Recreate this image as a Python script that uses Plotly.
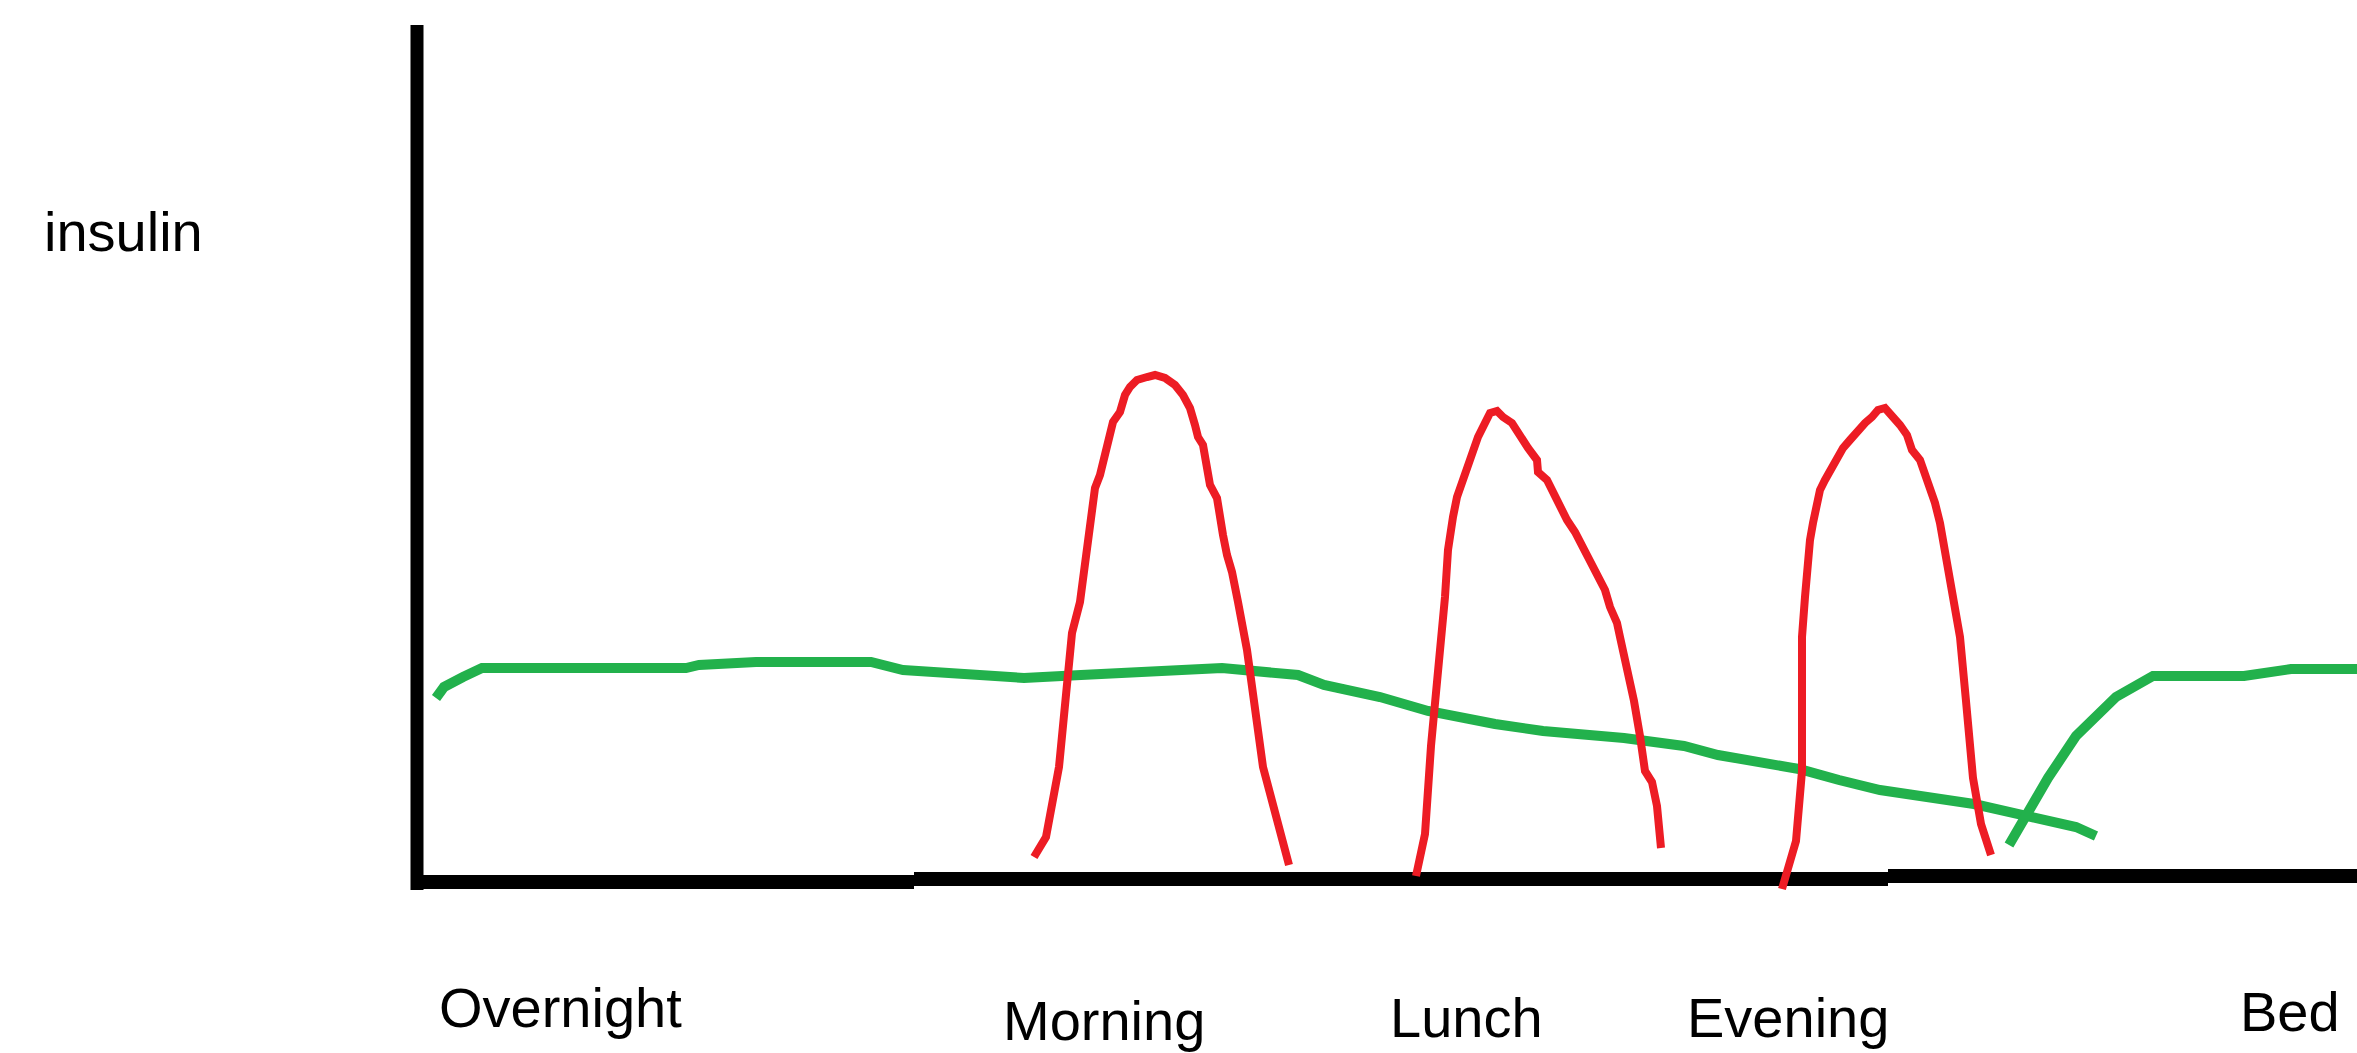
import plotly.graph_objects as go

# Time axis (arbitrary units) and insulin level (arbitrary units)
basal_day_x = [1.9, 2.7, 4.6, 6.5, 26.9, 28.2, 33.9, 45.4, 48.6, 55.0, 60.7, 66.4, 75.4, 80.5, 88.1,
               90.7, 96.3, 101.1, 107.8, 112.6, 120.7, 126.7, 130.1, 138.2, 142.2, 146.3, 155.7,
               161.1, 165.9, 167.9]
basal_day_y = [18.4, 19.5, 20.5, 21.4, 21.4, 21.7, 22.0, 22.0, 21.2, 20.9, 20.4, 20.7, 21.2, 21.4, 20.7,
               19.7, 18.5, 17.1, 15.8, 15.1, 14.4, 13.6, 12.7, 11.3, 10.2, 9.2, 7.8,
               6.7, 5.5, 4.6]

basal_bed_x = [159.2, 160.8, 163.1, 165.9, 169.9, 173.6, 182.7, 187.4, 194.3]
basal_bed_y = [3.7, 6.5, 10.4, 14.6, 18.5, 20.6, 20.6, 21.3, 21.3]

morning_x = [61.7, 62.9, 64.2, 64.9, 65.5, 66.3, 66.8, 67.3, 67.8, 68.3, 68.8, 69.1, 69.6, 70.3, 70.8,
             71.3, 72.0, 73.0, 73.8, 74.8, 75.8, 76.6, 77.3, 77.8, 78.1, 78.6, 79.0, 79.3, 80.0,
             80.3, 80.6, 81.0, 81.5, 82.1, 83.0, 84.6, 85.9, 87.2]
morning_y = [2.5, 4.5, 11.5, 18.2, 24.9, 28.0, 32.0, 35.4, 39.4, 40.7, 42.7, 44.7, 46.0, 47.0, 48.7,
             49.5, 50.2, 50.5, 50.7, 50.4, 49.7, 48.7, 47.4, 45.7, 44.5, 43.7, 41.7, 39.7, 38.4,
             37.0, 34.7, 32.7, 31.0, 28.0, 23.2, 11.5, 6.5, 1.7]

lunch_x = [99.9, 100.8, 101.4, 102.1, 102.5, 102.8, 103.1, 103.3, 103.6, 104.0, 104.5, 105.0, 105.5,
           106.1, 106.8, 107.3, 108.0, 108.6, 109.5, 110.3, 111.1, 112.0, 112.1, 113.0, 113.6,
           114.3, 115.0, 115.8, 116.6, 117.3, 118.0, 118.8, 119.3, 120.0, 120.3, 121.0, 121.7,
           122.3, 122.8, 123.5, 124.0, 124.4]
lunch_y = [0.6, 4.8, 13.6, 20.6, 24.5, 28.5, 33.2, 35.2, 36.5, 38.5, 39.9, 41.5, 43.2,
           44.5, 45.9, 46.9, 47.1, 46.5, 45.9, 44.5, 43.4, 42.2, 41.0, 40.2, 38.9,
           37.5, 36.2, 35.0, 33.5, 32.2, 30.5, 29.2, 27.5, 25.9, 24.5, 21.6, 18.1,
           14.6, 11.1, 10.0, 7.6, 3.4]

evening_x = [136.5, 137.9, 138.5, 138.5, 138.5, 138.8, 139.1, 139.3, 139.6, 140.0, 140.3, 140.8,
             141.5, 142.0, 142.6, 143.3, 144.1, 144.8, 145.5, 146.1, 146.8, 147.5, 148.3, 149.0,
             149.5, 150.3, 150.8, 151.3, 151.8, 152.3, 152.6, 153.1, 153.6, 154.0, 154.3, 154.9,
             155.6, 156.4, 157.4]
evening_y = [-0.7, 4.1, 11.1, 21.6, 24.5, 28.5, 32.5, 34.2, 35.9, 37.9, 39.2, 40.2,
             41.5, 42.2, 43.4, 44.2, 45.2, 45.9, 46.5, 47.2, 47.4, 46.7, 45.7, 44.7,
             43.2, 42.2, 40.9, 39.2, 37.9, 35.9, 34.2, 31.9, 29.2, 26.5, 24.5, 18.1,
             10.4, 5.8, 2.7]

# Hand-drawn axes
y_axis_x = [0, 0]
y_axis_y = [85.7, -0.8]
base_segments = [([0.5, 49.7], [0.0, 0.0]), ([49.7, 147.1], [0.3, 0.3]), ([147.1, 194.5], [0.6, 0.6])]

labels = ["Overnight", "Morning", "Lunch", "Evening", "Bed"]
label_x = [2.0, 58.4, 97.1, 126.8, 182.1]
label_y = [-12.5, -13.8, -13.55, -13.55, -12.95]
y_title = "insulin"

GREEN = "#22b14c"
RED = "#ed1c24"
FONT = "Liberation Sans, Arial, sans-serif"

fig = go.Figure()

fig.add_trace(go.Scatter(x=y_axis_x, y=y_axis_y, mode="lines", line=dict(color="black", width=13)))
for sx, sy in base_segments:
    fig.add_trace(go.Scatter(x=sx, y=sy, mode="lines", line=dict(color="black", width=14)))

fig.add_trace(go.Scatter(x=basal_day_x, y=basal_day_y, mode="lines", line=dict(color=GREEN, width=10)))
fig.add_trace(go.Scatter(x=basal_bed_x, y=basal_bed_y, mode="lines", line=dict(color=GREEN, width=10)))
for xs, ys in [(morning_x, morning_y), (lunch_x, lunch_y), (evening_x, evening_y)]:
    fig.add_trace(go.Scatter(x=xs, y=ys, mode="lines", line=dict(color=RED, width=8)))

for t, lx, ly in zip(labels, label_x, label_y):
    fig.add_annotation(x=lx, y=ly, text=t, showarrow=False, xanchor="left", yanchor="middle",
                       font=dict(family=FONT, size=56, color="black"))
fig.add_annotation(x=-37.5, y=65.1, text=y_title, showarrow=False, xanchor="left", yanchor="middle",
                   font=dict(family=FONT, size=56, color="black"))

fig.update_layout(
    width=2357, height=1053,
    margin=dict(l=0, r=0, t=0, b=0),
    paper_bgcolor="white", plot_bgcolor="white",
    showlegend=False,
    xaxis=dict(range=[-41.7, 194.0], visible=False, fixedrange=True),
    yaxis=dict(range=[-17.1, 88.2], visible=False, fixedrange=True),
)

fig.write_html(
    "out.html",
    config={"displayModeBar": False},
    post_script="document.body.style.margin='0';document.body.style.overflow='hidden';",
)
